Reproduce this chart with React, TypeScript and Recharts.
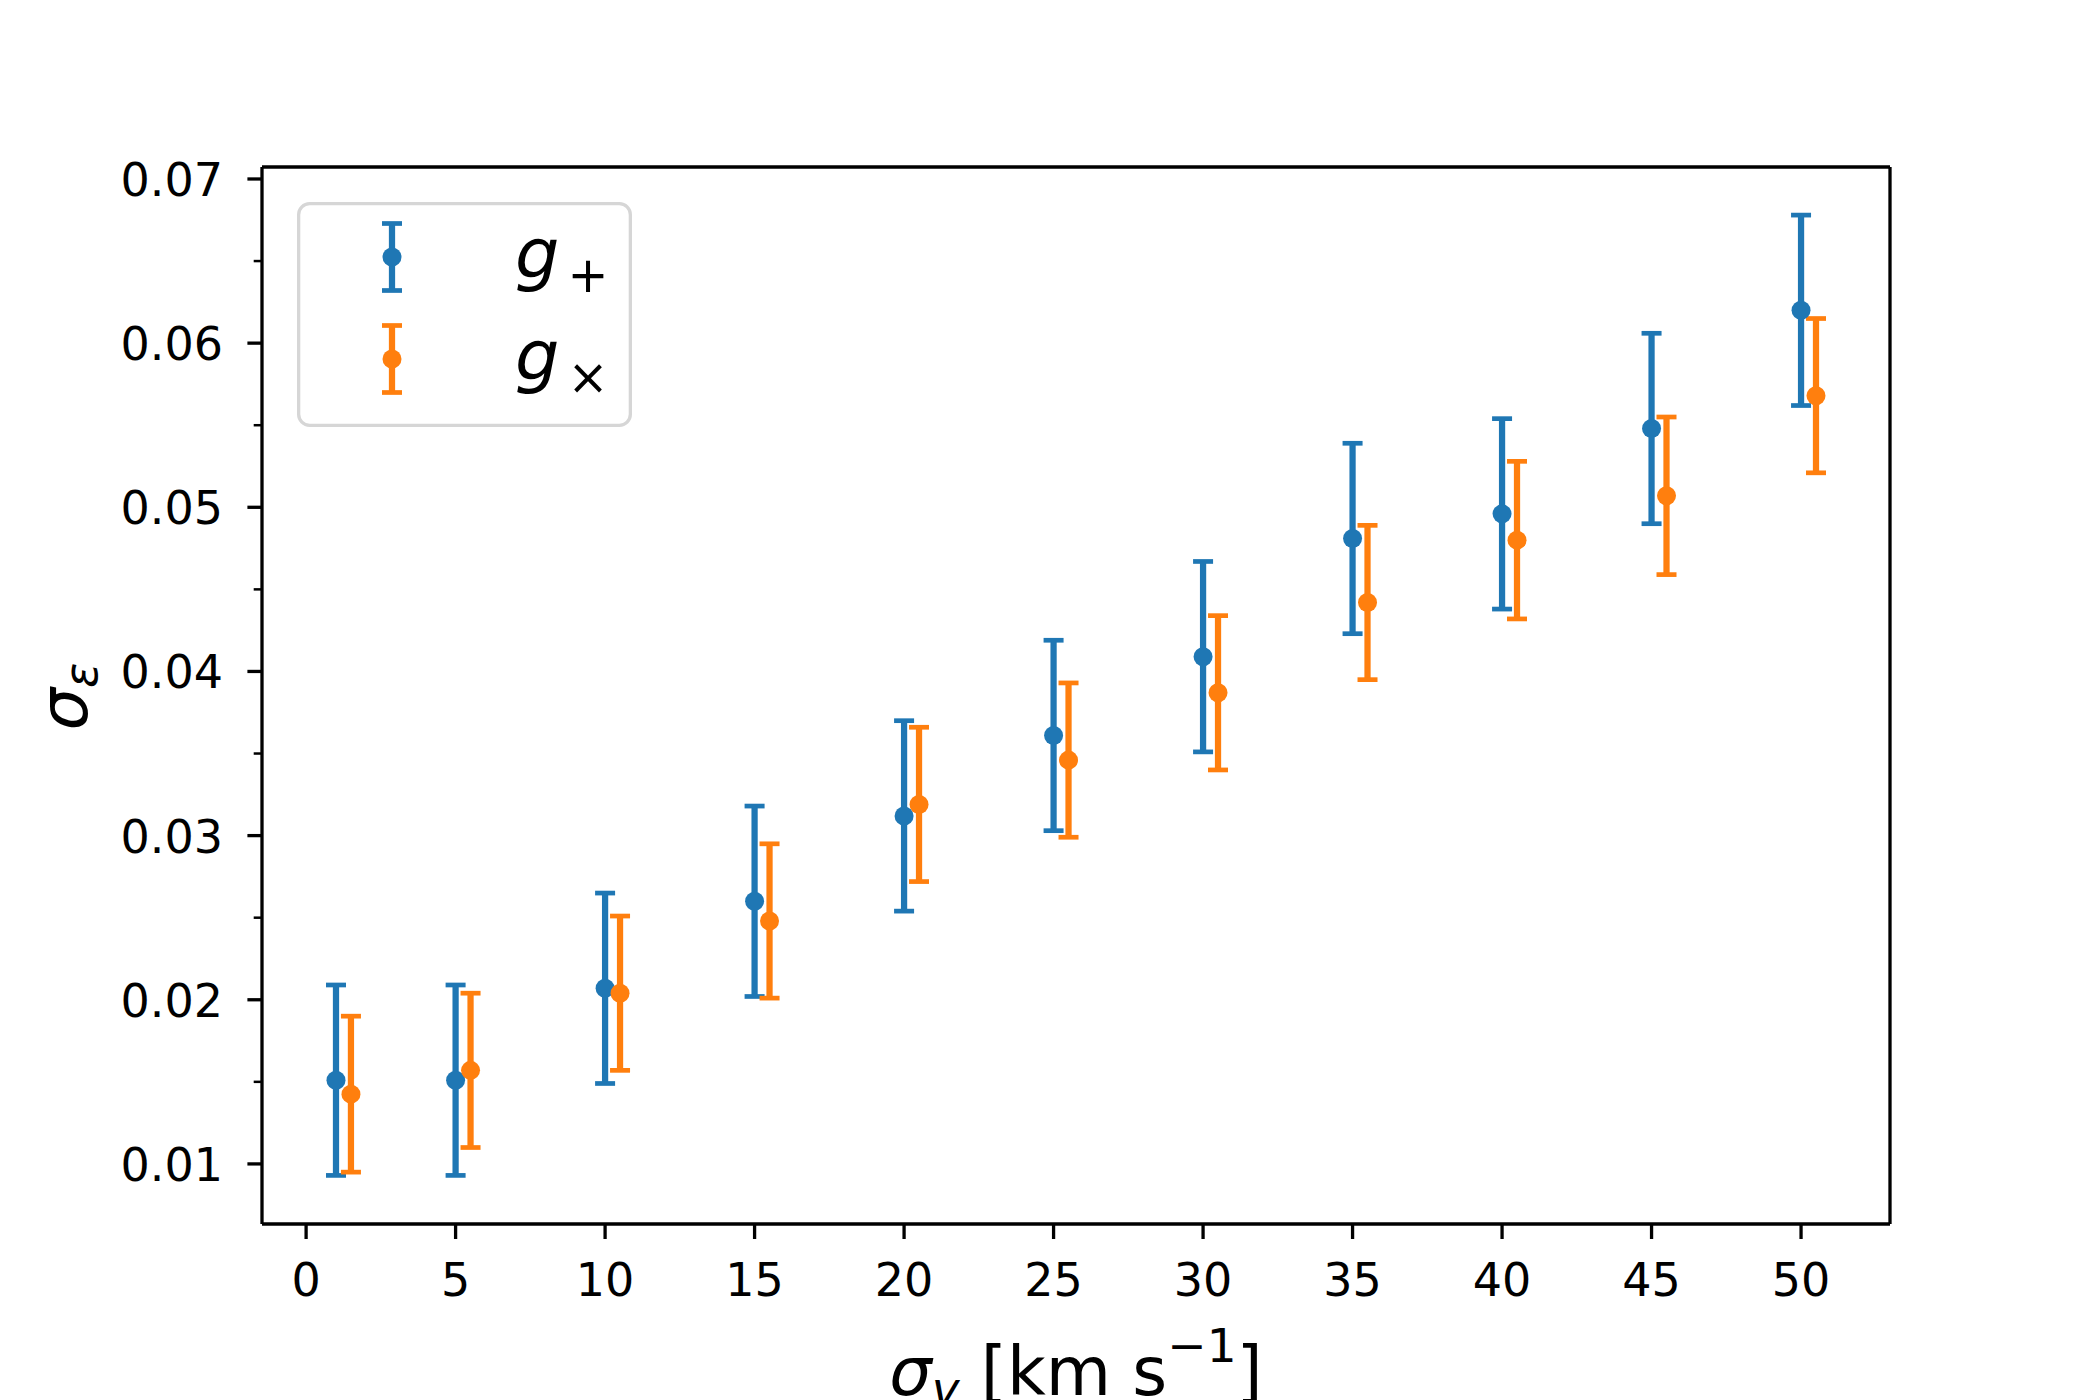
import React from 'react';
import { ScatterChart, Scatter, XAxis, YAxis, ErrorBar, Legend, ReferenceLine } from 'recharts';

const BLUE = '#1f77b4';
const ORANGE = '#ff7f0e';
const FONT = '"DejaVu Sans", sans-serif';

// sigma_v positions: g+ at the nominal value, gx shifted by 0.5
const sigmaVPlus = [1, 5, 10, 15, 20, 25, 30, 35, 40, 45, 50];
const sigmaVCross = [1.5, 5.5, 10.5, 15.5, 20.5, 25.5, 30.5, 35.5, 40.5, 45.5, 50.5];

const gPlus = [0.0151, 0.0151, 0.0207, 0.026, 0.0312, 0.0361, 0.0409, 0.0481, 0.0496, 0.0548, 0.062];
const gPlusErr = [0.0058, 0.0058, 0.0058, 0.0058, 0.0058, 0.0058, 0.0058, 0.0058, 0.0058, 0.0058, 0.0058];
const gCross = [0.01425, 0.0157, 0.0204, 0.0248, 0.0319, 0.0346, 0.0387, 0.0442, 0.048, 0.0507, 0.0568];
const gCrossErr = [0.00475, 0.0047, 0.0047, 0.0047, 0.0047, 0.0047, 0.0047, 0.0047, 0.0048, 0.0048, 0.0047];

const xTicks = [0, 5, 10, 15, 20, 25, 30, 35, 40, 45, 50];
const yMajorTicks = [0.01, 0.02, 0.03, 0.04, 0.05, 0.06, 0.07];
const yMinorTicks = [0.015, 0.025, 0.035, 0.045, 0.055, 0.065];

const xDomain = [-1.475, 52.975];
const yDomain = [0.00634, 0.07073];

const plusData = sigmaVPlus.map((x, i) => ({ x, y: gPlus[i], err: gPlusErr[i] }));
const crossData = sigmaVCross.map((x, i) => ({ x, y: gCross[i], err: gCrossErr[i] }));

const TICK_SIZE = 15;
const TICK_MARGIN = 24;
const SPINE = { stroke: '#000', strokeWidth: 3.3 };

const dot = (color: string) => (props: any) => (
  <circle cx={props.cx} cy={props.cy} r={9.5} fill={color} />
);

const YTick = (props: any) => {
  const { x, y, payload } = props;
  const v = payload.value;
  const major = Math.round(v * 1000) % 10 === 0;
  const axisX = x + TICK_SIZE + TICK_MARGIN;
  return (
    <g>
      <line
        x1={axisX - (major ? 14.6 : 8.3)}
        x2={axisX}
        y1={y}
        y2={y}
        stroke="#000"
        strokeWidth={major ? 3.3 : 2.5}
      />
      {major && (
        <text x={x} y={y + 17} textAnchor="end" fontSize={46} fontFamily={FONT} fill="#000">
          {v.toFixed(2)}
        </text>
      )}
    </g>
  );
};

const XTick = (props: any) => {
  const { x, y, payload } = props;
  return (
    <text x={x} y={y + 33} textAnchor="middle" fontSize={46} fontFamily={FONT} fill="#000">
      {payload.value}
    </text>
  );
};

const XLabel = (props: any) => {
  const vb = props.viewBox;
  return (
    <text x={vb.x + vb.width / 2} y={vb.y + 171} textAnchor="middle" fontSize={67} fontFamily={FONT} fill="#000">
      <tspan fontStyle="italic">σ</tspan>
      <tspan fontStyle="italic" fontSize={47} dy={10}>v</tspan>
      <tspan dy={-10}> [km s</tspan>
      <tspan fontSize={47} dy={-33}>−1</tspan>
      <tspan dy={33}>]</tspan>
    </text>
  );
};

const YLabel = (props: any) => {
  const vb = props.viewBox;
  const bx = 87;
  const cy = vb.y + vb.height / 2 + 1;
  return (
    <text
      x={bx}
      y={cy}
      transform={`rotate(-90, ${bx}, ${cy})`}
      textAnchor="middle"
      fontSize={67}
      fontFamily={FONT}
      fill="#000"
    >
      <tspan fontStyle="italic">σ</tspan>
      <tspan fontStyle="italic" fontSize={47} dy={10}>ε</tspan>
    </text>
  );
};

const LegendBox = (props: any) => {
  const payload = props.payload || [];
  return (
    <svg width={335} height={225} style={{ display: 'block' }}>
      <rect x={1.65} y={1.65} width={331.7} height={221.7} rx={11} fill="#fff" stroke="#d6d6d6" strokeWidth={3.3} />
      {payload.map((entry: any, i: number) => {
        const cy = 55 + i * 102;
        const name = String(entry.value);
        return (
          <g key={name}>
            <line x1={95} x2={95} y1={cy - 33.5} y2={cy + 33.5} stroke={entry.color} strokeWidth={6.25} />
            <line x1={85} x2={105} y1={cy - 33.5} y2={cy - 33.5} stroke={entry.color} strokeWidth={4.7} />
            <line x1={85} x2={105} y1={cy + 33.5} y2={cy + 33.5} stroke={entry.color} strokeWidth={4.7} />
            <circle cx={95} cy={cy} r={9.5} fill={entry.color} />
            <text x={218} y={cy + 21} fontSize={70} fontFamily={FONT} fill="#000">
              <tspan fontStyle="italic">{name.slice(0, 1)}</tspan>
              <tspan fontSize={49} dx={8} dy={14}>{name.slice(1)}</tspan>
            </text>
          </g>
        );
      })}
    </svg>
  );
};

export default function App() {
  return (
    <div style={{ width: 2100, height: 1400, background: '#fff' }}>
      <style>{'body{margin:0;background:#fff}'}</style>
      <ScatterChart width={2100} height={1400} margin={{ top: 167, right: 210, bottom: 0, left: 0 }}>
        <XAxis
          dataKey="x"
          type="number"
          domain={xDomain}
          ticks={xTicks}
          interval={0}
          allowDataOverflow
          height={176}
          tickSize={TICK_SIZE}
          tickMargin={TICK_MARGIN}
          axisLine={SPINE}
          tickLine={SPINE}
          tick={XTick}
          label={{ content: XLabel }}
        />
        <YAxis
          dataKey="y"
          type="number"
          domain={yDomain}
          ticks={[...yMajorTicks, ...yMinorTicks].sort((a, b) => a - b)}
          interval={0}
          allowDataOverflow
          width={262}
          tickSize={TICK_SIZE}
          tickMargin={TICK_MARGIN}
          axisLine={SPINE}
          tickLine={false}
          tick={YTick}
          label={{ content: YLabel }}
        />
        {/* top and right spines of the frame */}
        <ReferenceLine y={yDomain[1]} ifOverflow="visible" {...SPINE} />
        <ReferenceLine x={xDomain[1]} ifOverflow="visible" {...SPINE} />
        <Legend
          layout="horizontal"
          verticalAlign="middle"
          align="center"
          wrapperStyle={{ left: 297, top: 202, width: 335, height: 225 }}
          content={LegendBox}
        />
        <Scatter name="g+" data={plusData} fill={BLUE} shape={dot(BLUE)} isAnimationActive={false}>
          <ErrorBar dataKey="err" direction="y" width={0} stroke={BLUE} strokeWidth={6.25} isAnimationActive={false} />
          <ErrorBar dataKey="err" direction="y" width={10} stroke={BLUE} strokeWidth={4.7} isAnimationActive={false} />
        </Scatter>
        <Scatter name="g×" data={crossData} fill={ORANGE} shape={dot(ORANGE)} isAnimationActive={false}>
          <ErrorBar dataKey="err" direction="y" width={0} stroke={ORANGE} strokeWidth={6.25} isAnimationActive={false} />
          <ErrorBar dataKey="err" direction="y" width={10} stroke={ORANGE} strokeWidth={4.7} isAnimationActive={false} />
        </Scatter>
      </ScatterChart>
    </div>
  );
}
